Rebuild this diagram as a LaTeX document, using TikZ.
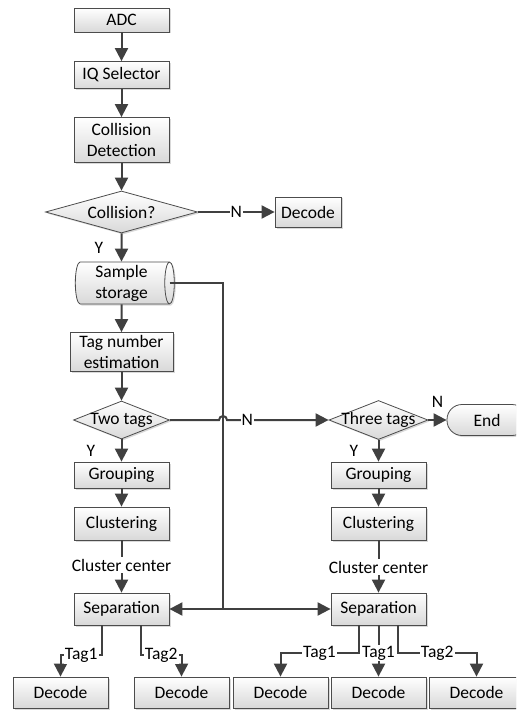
\documentclass[tikz,border=0pt]{standalone}
\usepackage{fontspec}
\setmainfont{Carlito}
\usetikzlibrary{shapes.geometric,arrows.meta,shadows}
\newcommand{\nw}[1]{\makebox[0pt]{#1}}

\begin{document}
\begin{tikzpicture}[x=1pt,y=-1pt,
    font=\fontsize{17.5}{21}\selectfont,
    box/.style={draw=black!70,line width=0.8pt,top color=white,bottom color=black!15,
      drop shadow={shadow xshift=1.5pt,shadow yshift=-1.5pt,opacity=0.3},
      minimum width=95pt,minimum height=27pt,inner sep=2pt,align=center},
    dec/.style={box,diamond,inner sep=0pt,aspect=1},
    arr/.style={draw=black!75,line width=2pt,-{Triangle[length=13pt,width=13pt]}},
    ln/.style={draw=black!75,line width=2pt},
    lbl/.style={fill=white,inner sep=1pt}]

  \useasboundingbox (0,0) rectangle (516,711);
  \clip (0,0) rectangle (516,711);

  % left column
  \node[box,minimum height=24pt] (adc) at (121.5,20) {ADC};
  \node[box] (iq) at (121.5,75) {IQ Selector};
  \node[box,minimum height=45pt] (cd) at (121.5,140) {Collision\\Detection};
  \node[dec,minimum width=152pt,minimum height=42pt] (col) at (121.5,212) {\nw{Collision?}};
  \node[box,minimum width=66pt,minimum height=30pt] (dec0) at (308,212) {Decode};
  \node[box,cylinder,shape aspect=0.25,minimum width=42pt,minimum height=99pt,inner sep=1pt] (store) at (121.5,283) {Sample\\storage};
  \node[box,minimum width=103pt,minimum height=39pt] (tne) at (121.5,352) {Tag number\\estimation};
  \node[dec,minimum width=96pt,minimum height=38pt] (two) at (121.5,420) {\nw{Two tags}};
  \node[box,minimum height=26pt] (grpL) at (121.5,475) {Grouping};
  \node[box,minimum height=33pt] (cluL) at (121.5,523.5) {Clustering};
  \node[inner sep=2pt] (ccL) at (121.5,565) {Cluster center};
  \node[box,minimum height=32pt] (sepL) at (121.5,609) {Separation};
  \node[box,minimum height=31pt] (decA) at (60.5,692.5) {Decode};
  \node[box,minimum height=31pt] (decB) at (181.5,692.5) {Decode};

  % right column
  \node[dec,minimum width=99pt,minimum height=39pt] (three) at (378.5,420) {\nw{Three tags}};
  \node[box,rounded corners=15pt,minimum width=80pt,minimum height=31pt] (end) at (487,420) {End};
  \node[box,minimum height=26pt] (grpR) at (378.5,475) {Grouping};
  \node[box,minimum height=33pt] (cluR) at (378.5,523.5) {Clustering};
  \node[inner sep=2pt] (ccR) at (378.5,567) {Cluster center};
  \node[box,minimum height=32pt] (sepR) at (378.5,609) {Separation};
  \node[box,minimum height=31pt] (decC) at (280.5,692.5) {Decode};
  \node[box,minimum height=31pt] (decD) at (378.5,692.5) {Decode};
  \node[box,minimum height=31pt] (decE) at (476.5,692.5) {Decode};

  \coordinate (jn) at (223,609);

  \draw[arr] (adc) -- (iq);
  \draw[arr] (iq) -- (cd);
  \draw[arr] (cd) -- (col);
  \draw[arr] (col) -- node[left=14pt]{Y} (store);
  \draw[arr] (col) -- node[lbl]{N} (dec0);
  \draw[arr] (store) -- (tne);
  \draw[arr] (tne) -- (two);
  \draw[arr] (two) -- node[left=22pt]{Y} (grpL);
  \draw[arr] (grpL) -- (cluL);
  \draw[ln] (cluL) -- (ccL);
  \draw[arr] (ccL) -- (sepL);

  % stored samples to both separations
  \draw[ln] ([xshift=-5pt]store.top) -| (jn);
  \draw[arr] (jn) -- (sepL);
  \draw[arr] (jn) -- (sepR);

  % jump over the sample line
  \draw[arr] (two.east) -- ([xshift=-4pt]jn |- two.east) arc[start angle=180,end angle=0,radius=4pt]
    -- node[lbl,pos=0.2]{N} (three.west);

  \draw[arr] (three) -- node[above=8pt]{N} (end);
  \draw[arr] (three) -- node[left=16pt]{Y} (grpR);
  \draw[arr] (grpR) -- (cluR);
  \draw[ln] (cluR) -- (ccR);
  \draw[arr] (ccR) -- (sepR);

  % outputs
  \draw[arr] ([xshift=-19.5pt]sepL.south) -- ++(0,30) -| node[lbl,pos=0.25]{Tag1} (decA);
  \draw[arr] ([xshift=19.5pt]sepL.south) -- ++(0,30) -| node[lbl,pos=0.25]{Tag2} (decB);
  \draw[arr] ([xshift=-20pt]sepR.south) -- ++(0,28) -| node[lbl,pos=0.25]{Tag1} (decC);
  \draw[arr] (sepR) -- node[lbl,pos=0.54]{Tag1} (decD);
  \draw[arr] ([xshift=19.5pt]sepR.south) -- ++(0,28) -| node[lbl,pos=0.25]{Tag2} (decE);

\end{tikzpicture}
\end{document}
